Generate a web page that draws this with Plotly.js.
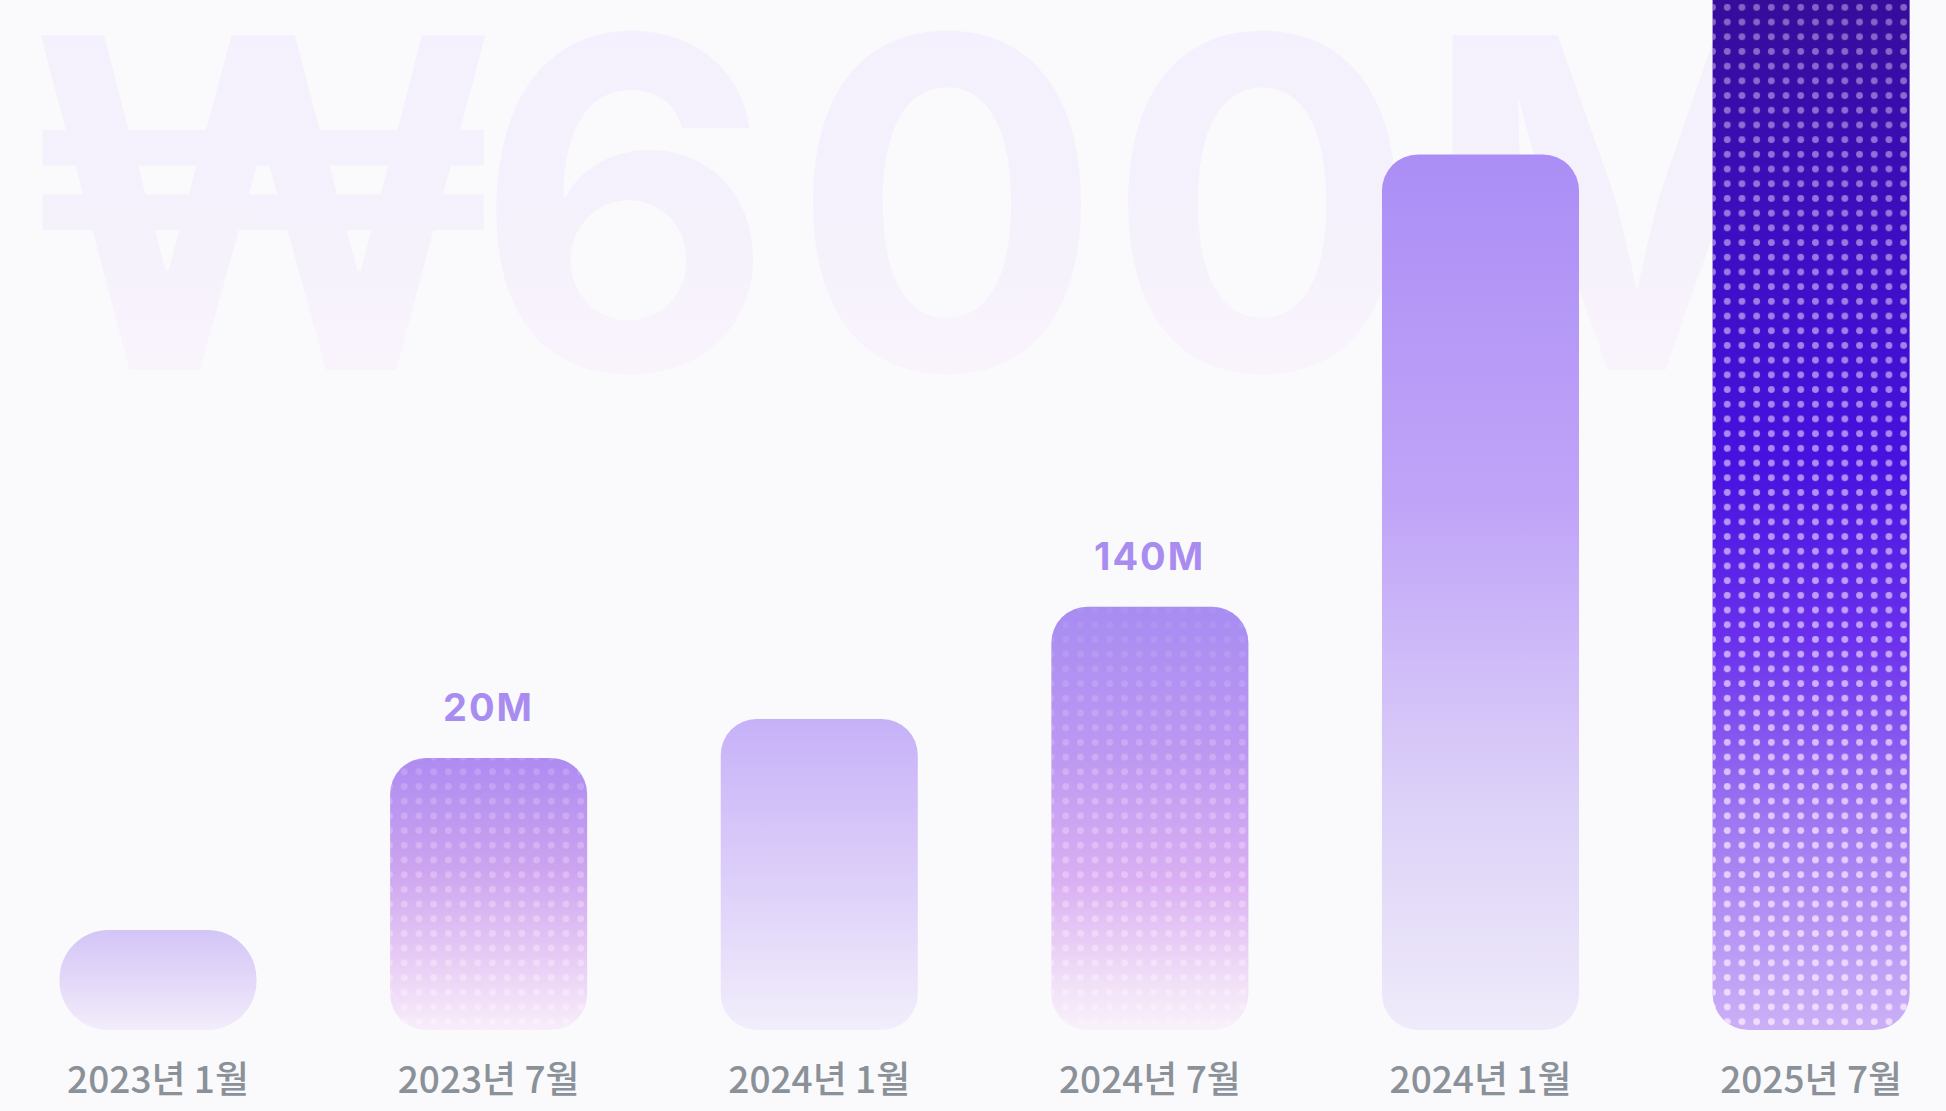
<!DOCTYPE html>
<html><head><meta charset="utf-8">
<script src="https://cdn.plot.ly/plotly-3.0.1.min.js"></script>
<style>html,body{margin:0;padding:0;background:#fafafc;overflow:hidden}</style>
</head><body><div id="chart" style="width:1946px;height:1111px"></div>
<script>
// ---- data ----
const categories = ["2023년 1월", "2023년 7월", "2024년 1월", "2024년 7월", "2024년 1월", "2025년 7월"];
const positions = [0, 1, 2, 3, 4, 5];
// bar heights, in % of the plot height (last bar runs off the top)
const barHeights = [9.7, 26.4, 30.2, 41.1, 85.0, 110];
const valueLabels = ["", "20M", "", "140M", "", ""];
const headlineParts = ["₩", "6", "00", "M"];

// ---- styles ----
const Y_MAX = 100;
const BAR_WIDTH = 0.596;
const cornerRadius = [50, 36, 36, 36, 36, 36];
const headlineSpacing = [-27, 18, 5, 0];
const gradients = [
  [[0, '#d3c5f6'], [0.5, '#e3d8f8'], [1, '#f2edfb']],
  [[0, '#ad8bf1'], [0.4, '#cca3ef'], [0.75, '#e8cdf5'], [1, '#f8eefa']],
  [[0, '#c6b1f8'], [0.5, '#dccef9'], [1, '#f2eefb']],
  [[0, '#a78cf2'], [0.35, '#bd98f1'], [0.65, '#dab0f2'], [0.9, '#f2e2f8'], [1, '#f8f1fa']],
  [[0, '#ab8ef5'], [0.4, '#c0a4f8'], [0.75, '#ddd2f8'], [1, '#efebfa']],
  [[0, '#360c9a'], [0.25, '#3d0ec4'], [0.45, '#4712df'], [0.62, '#6a30ec'], [0.8, '#9f78f1'], [1, '#cbb0f6']]
];
const dotColors = [null, 'rgba(255,245,255,0.42)', null, 'rgba(255,245,255,0.45)', null, 'rgba(245,225,255,0.9)'];
const dotFade = [null, [[0, 0.4], [1, 1]], null, [[0, 0.12], [0.4, 0.55], [1, 1]], null, [[0, 0.45], [0.6, 0.72], [1, 1]]];

const traces = [];
const annotations = [];
barHeights.forEach((h, i) => {
  const mid = gradients[i][Math.floor(gradients[i].length / 2)][1];
  const common = {type: 'bar', x: [positions[i]], y: [h], base: [0], width: [BAR_WIDTH], hoverinfo: 'skip', showlegend: false};
  traces.push(Object.assign({}, common, {
    marker: {color: mid, cornerradius: cornerRadius[i], line: {width: 0}}, meta: {bar: i, kind: 'fill'}}));
  if (dotColors[i]) {
    traces.push(Object.assign({}, common, {
      marker: {color: 'rgba(0,0,0,0)', cornerradius: cornerRadius[i], line: {width: 0},
        pattern: {shape: '.', fgcolor: dotColors[i], bgcolor: 'rgba(0,0,0,0)', size: 14.7, solidity: 0.17, fillmode: 'replace'}},
      meta: {bar: i, kind: 'dots'}}));
  }
  if (valueLabels[i]) {
    annotations.push({x: positions[i], y: h, xref: 'x', yref: 'y',
      text: '<span style="letter-spacing:2px">' + valueLabels[i] + '</span>', showarrow: false,
      yanchor: 'bottom', yshift: 26,
      font: {family: 'Inter, sans-serif', size: 38, weight: 700, color: '#a98cf0'}});
  }
});

const headlineText = headlineParts.map((p, k) =>
  '<span style="letter-spacing:' + headlineSpacing[k] + 'px">' + p + '</span>').join('');

const layout = {
  width: 1946, height: 1111,
  margin: {l: 0, r: 0, t: 0, b: 81, pad: 0},
  paper_bgcolor: '#fafafc', plot_bgcolor: 'rgba(0,0,0,0)',
  barmode: 'overlay', showlegend: false,
  xaxis: {range: [-0.478, 5.408], tickvals: positions, ticktext: categories, showgrid: false, zeroline: false,
    showline: false, ticks: '', ticklabelstandoff: 25,
    tickfont: {family: 'Noto Sans CJK KR, sans-serif', size: 37, weight: 500, color: '#8b9199'}},
  yaxis: {range: [0, Y_MAX], visible: false, showgrid: false, zeroline: false},
  annotations: annotations,
  shapes: [{type: 'rect', xref: 'paper', yref: 'paper', x0: 0, x1: 1, y0: 0.66, y1: 0.974, layer: 'below',
    line: {width: 0}, fillcolor: 'rgba(0,0,0,0)',
    label: {text: headlineText, textposition: 'middle left', padding: 21,
      font: {family: 'Inter, sans-serif', size: 460, weight: 700, color: '#f3eefc'}}}]
};

const gd = document.getElementById('chart');
Plotly.newPlot(gd, traces, layout, {staticPlot: true, displayModeBar: false}).then(() => {
  const NS = 'http://www.w3.org/2000/svg';
  const svg = gd.querySelector('.main-svg');
  let defs = svg.querySelector('defs');
  if (!defs) { defs = document.createElementNS(NS, 'defs'); svg.insertBefore(defs, svg.firstChild); }
  const ya = gd._fullLayout.yaxis;
  function grad(id, stops, y1, y2, mask) {
    const g = document.createElementNS(NS, 'linearGradient');
    g.setAttribute('id', id);
    if (y1 === null) { g.setAttribute('x1', '0'); g.setAttribute('x2', '0'); g.setAttribute('y1', '0'); g.setAttribute('y2', '1'); }
    else {
      g.setAttribute('gradientUnits', 'userSpaceOnUse');
      g.setAttribute('x1', '0'); g.setAttribute('x2', '0');
      g.setAttribute('y1', y1); g.setAttribute('y2', y2);
    }
    stops.forEach(s => {
      const st = document.createElementNS(NS, 'stop');
      st.setAttribute('offset', s[0]);
      if (mask) { st.setAttribute('stop-color', '#fff'); st.setAttribute('stop-opacity', s[1]); }
      else st.setAttribute('stop-color', s[1]);
      g.appendChild(st);
    });
    defs.appendChild(g);
  }
  gd.querySelectorAll('.barlayer g.trace').forEach(el => {
    const cd = el.__data__;
    if (!cd || !cd[0]) return;
    const meta = cd[0].trace.meta;
    const i = meta.bar;
    const yTop = ya.l2p(Math.min(barHeights[i], Y_MAX));
    const yBot = ya.l2p(0);
    const path = el.querySelector('path');
    if (!path) return;
    if (meta.kind === 'fill') {
      grad('barGrad' + i, gradients[i], yTop, yBot, false);
      path.style.fill = 'url(#barGrad' + i + ')';
    } else {
      grad('fadeGrad' + i, dotFade[i], yTop, yBot, true);
      const m = document.createElementNS(NS, 'mask');
      m.setAttribute('id', 'fade' + i);
      m.setAttribute('maskUnits', 'userSpaceOnUse');
      m.setAttribute('x', '-5000'); m.setAttribute('y', '-5000');
      m.setAttribute('width', '10000'); m.setAttribute('height', '10000');
      const r = document.createElementNS(NS, 'rect');
      r.setAttribute('x', '-5000'); r.setAttribute('y', '-5000');
      r.setAttribute('width', '10000'); r.setAttribute('height', '10000');
      r.setAttribute('fill', 'url(#fadeGrad' + i + ')');
      m.appendChild(r);
      defs.appendChild(m);
      path.setAttribute('mask', 'url(#fade' + i + ')');
    }
  });
  grad('wmGrad', [[0, '#f3effd'], [0.6, '#f6f2fc'], [1, '#fcf5fc']], null, null, false);
  gd.querySelectorAll('.shapelayer text').forEach(t => {
    t.style.fill = 'url(#wmGrad)';
    t.querySelectorAll('tspan').forEach(s => { s.style.fill = 'url(#wmGrad)'; });
  });
});
</script>
</body></html>
